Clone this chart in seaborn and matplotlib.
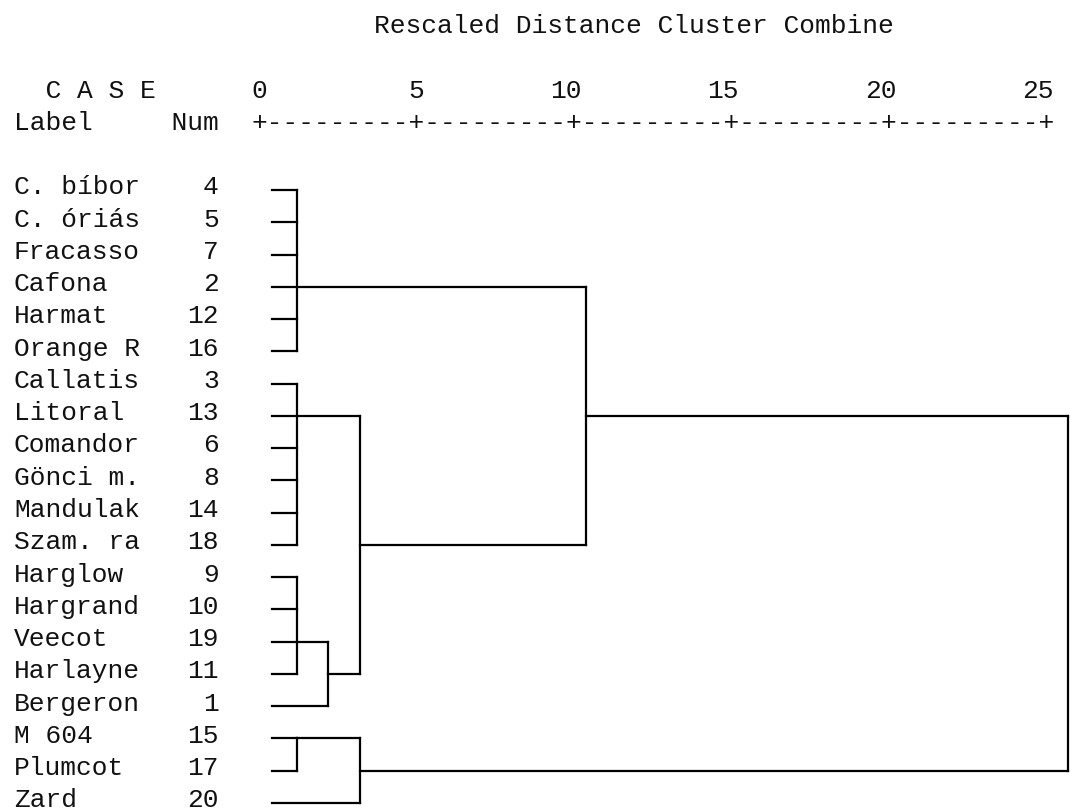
import pandas as pd
import seaborn as sns
import matplotlib.pyplot as plt


# leaf order as printed, top to bottom
labels = ["C. bíbor", "C. óriás", "Fracasso", "Cafona", "Harmat", "Orange R",
          "Callatis", "Litoral", "Comandor", "Gönci m.", "Mandulak", "Szam. ra",
          "Harglow", "Hargrand", "Veecot", "Harlayne", "Bergeron",
          "M 604", "Plumcot", "Zard"]
case_nums = [4, 5, 7, 2, 12, 16, 3, 13, 6, 8, 14, 18, 9, 10, 19, 11, 1, 15, 17, 20]

# cluster nodes: children, rescaled distance, case on whose line the branch leaves
node_names = ["A", "B", "C", "C2", "BC", "ABC", "D", "D2", "root"]
node_children = [
    ["C. bíbor", "C. óriás", "Fracasso", "Cafona", "Harmat", "Orange R"],
    ["Callatis", "Litoral", "Comandor", "Gönci m.", "Mandulak", "Szam. ra"],
    ["Harglow", "Hargrand", "Veecot", "Harlayne"],
    ["C", "Bergeron"],
    ["B", "C2"],
    ["A", "BC"],
    ["M 604", "Plumcot"],
    ["D", "Zard"],
    ["ABC", "D2"],
]
node_dist = [1.2, 1.2, 1.2, 2.2, 3.2, 10.4, 1.2, 3.2, 25.7]
node_attach = ["Cafona", "Litoral", "Veecot", "Harlayne", "Szam. ra", "Litoral",
               "M 604", "Plumcot", None]

dist_ticks = [0, 5, 10, 15, 20, 25]

LEAF_X = 0.42   # where the leaf stubs start (distance units)
PX_X, X0 = 31.48, 259   # pixels per distance unit, pixel of distance 0
PX_Y, Y0 = 32.26, 190   # pixels per row, pixel of first row
W, H = 1070, 809
FONT = "Liberation Mono"
FS = 18.9
INK = "#111111"
TXT_DY = -0.08  # text sits a touch above the branch lines

# build the segments
row_of = {lab: i for i, lab in enumerate(labels)}
pos = {lab: (LEAF_X, i) for i, lab in enumerate(labels)}
segs = []
for name, kids, d, att in zip(node_names, node_children, node_dist, node_attach):
    ys = []
    for k in kids:
        kx, ky = pos[k]
        segs.append([(kx, ky), (d, ky)])
        ys.append(ky)
    segs.append([(d, min(ys)), (d, max(ys))])
    pos[name] = (d, row_of[att] if att else (min(ys) + max(ys)) / 2)

rows = []
for i, s in enumerate(segs):
    for x, y in s:
        rows.append({"seg": i, "x": x, "y": y})
df = pd.DataFrame(rows)

sns.set_theme(style="white")
plt.rcParams["font.family"] = [FONT, "DejaVu Sans Mono"]

fig = plt.figure(figsize=(W / 100, H / 100), dpi=100)
ax = fig.add_axes([0, 0, 1, 1])
sns.lineplot(data=df, x="x", y="y", units="seg", estimator=None, sort=False,
             color="black", linewidth=1.6, ax=ax)
for ln in ax.lines:
    ln.set_clip_on(False)
    ln.set_solid_capstyle("projecting")

ax.set_xlim(-X0 / PX_X, (W - X0) / PX_X)
ax.set_ylim((H - Y0) / PX_Y, -Y0 / PX_Y)
ax.set_axis_off()

char = 0.5  # one monospace char in distance units
left = (14 - X0) / PX_X
txt = dict(fontsize=FS, color=INK, va="center", fontfamily=FONT)

# leaf labels and case numbers
for i, (lab, n) in enumerate(zip(labels, case_nums)):
    ax.text(left, i + TXT_DY, lab, ha="left", **txt)
    ax.text(left + 13 * char, i + TXT_DY, str(n), ha="right", **txt)

# header
ax.text((634 - X0) / PX_X, -5 + TXT_DY, "Rescaled Distance Cluster Combine", ha="center", **txt)
ax.text(left, -3 + TXT_DY, "  C A S E", ha="left", **txt)
for t in dist_ticks:
    ax.text(t + char / 2, -3 + TXT_DY, str(t), ha="right", **txt)
ax.text(left, -2 + TXT_DY, "Label     Num", ha="left", **txt)
step = int((dist_ticks[1] - dist_ticks[0]) / char) - 1
ruler = "+" + "+".join(["-" * step] * (len(dist_ticks) - 1)) + "+"
ax.text(dist_ticks[0] - char / 2, -2 + TXT_DY, ruler, ha="left", **txt)

plt.savefig("out.png", dpi=100)
